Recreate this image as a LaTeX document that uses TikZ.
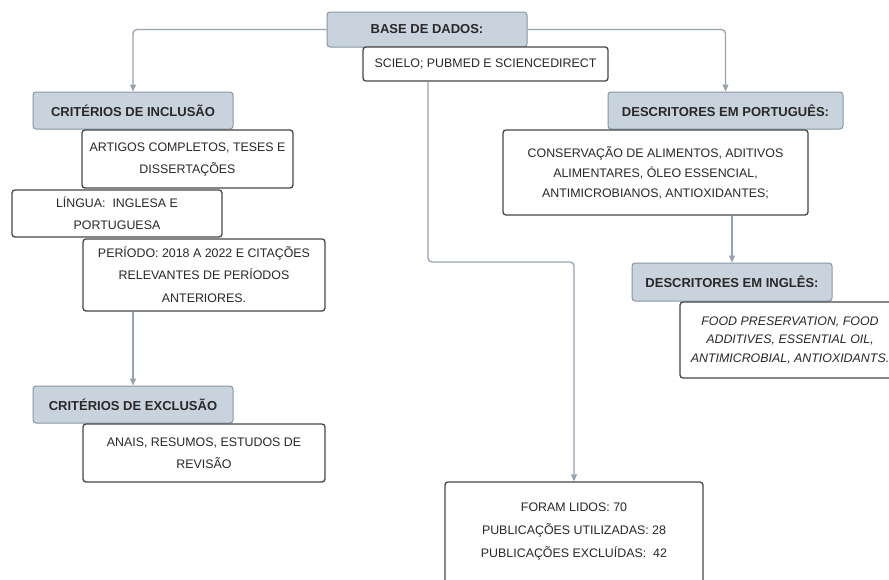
\documentclass[tikz,border=0pt]{standalone}
\usepackage{fontspec}
\setmainfont{Liberation Sans}
\usetikzlibrary{arrows.meta}
\definecolor{hdrfill}{RGB}{201,211,221}
\definecolor{hdrdraw}{RGB}{135,150,166}
\definecolor{conncol}{RGB}{150,162,176}
\definecolor{boxdraw}{RGB}{70,70,70}
\definecolor{txt}{RGB}{40,40,40}
\begin{document}
\begin{tikzpicture}[x=1pt,y=-1pt,
  hdr/.style={draw=hdrdraw, fill=hdrfill, line width=1pt, rounded corners=3pt, inner sep=0pt,
    font=\fontsize{13}{15}\selectfont\bfseries, text=txt},
  wbox/.style={draw=boxdraw, fill=white, line width=1.3pt, rounded corners=3pt, inner sep=0pt,
    align=center, text=txt, font=\fontsize{12.4}{22}\selectfont},
  link/.style={draw=conncol, line width=1.3pt, rounded corners=4pt,
    -{Triangle[width=6pt,length=7pt]}}]
\useasboundingbox[fill=white] (0,0) rectangle (889,579);

% header boxes
\node[hdr, minimum width=200pt, minimum height=35pt] (base) at (427,29.5) {BASE DE DADOS:};
\node[hdr, minimum width=200pt, minimum height=37pt] (inc) at (133,110.5) {CRITÉRIOS DE INCLUSÃO};
\node[hdr, minimum width=235pt, minimum height=37pt] (descpt) at (725.5,110.5) {DESCRITORES EM PORTUGUÊS:};
\node[hdr, minimum width=200pt, minimum height=38pt] (descen) at (732,282) {DESCRITORES EM INGLÊS:};
\node[hdr, minimum width=200pt, minimum height=37pt] (exc) at (133,404.5) {CRITÉRIOS DE EXCLUSÃO};

% connector bend point
\coordinate (bend) at (574,262);

% connectors
\draw[link] (base.west) -| (inc.north);
\draw[link] (base.east) -| (descpt.north);

% white boxes
\node[wbox, minimum width=245pt, minimum height=34pt] (scielo) at (485.5,64) {SCIELO; PUBMED E SCIENCEDIRECT};
\node[wbox, minimum width=211pt, minimum height=58pt] (artigos) at (187.5,159) {ARTIGOS COMPLETOS, TESES E\\DISSERTAÇÕES};
\node[wbox, minimum width=210pt, minimum height=47pt] (lingua) at (117,213.5) {LÍNGUA:\ \ INGLESA E\\PORTUGUESA};
\node[wbox, minimum width=242pt, minimum height=72pt] (periodo) at (204,275) {PERÍODO: 2018 A 2022 E CITAÇÕES\\RELEVANTES DE PERÍODOS\\[1pt]ANTERIORES.};
\node[wbox, minimum width=242pt, minimum height=58pt] (anais) at (204,453) {ANAIS, RESUMOS, ESTUDOS DE\\REVISÃO};
\node[wbox, minimum width=305pt, minimum height=85pt, font=\fontsize{12.4}{20}\selectfont] (conserv) at (655.5,172.5) {CONSERVAÇÃO DE ALIMENTOS, ADITIVOS\\ALIMENTARES, ÓLEO ESSENCIAL,\\ANTIMICROBIANOS, ANTIOXIDANTES;};
\node[wbox, minimum width=220pt, minimum height=76pt, font=\fontsize{12.4}{18.5}\selectfont\itshape] (food) at (790,340) {FOOD PRESERVATION, FOOD\\ADDITIVES, ESSENTIAL OIL,\\ANTIMICROBIAL, ANTIOXIDANTS.};
\node[wbox, minimum width=258pt, minimum height=120pt] (foram) at (574,542) {};
\node[align=center, inner sep=0pt, text=txt, font=\fontsize{12.4}{23}\selectfont] (foramtxt) at (574,531) {FORAM LIDOS: 70\\PUBLICAÇÕES UTILIZADAS: 28\\PUBLICAÇÕES EXCLUÍDAS:\ \ 42};

% remaining connectors
\draw[link] ([xshift=-57.5pt]scielo.south) |- (bend) -- (foram.north);
\draw[link] (periodo.south -| exc.north) -- (exc.north);
\draw[link] (conserv.south -| descen.north) -- (descen.north);
\end{tikzpicture}
\end{document}
